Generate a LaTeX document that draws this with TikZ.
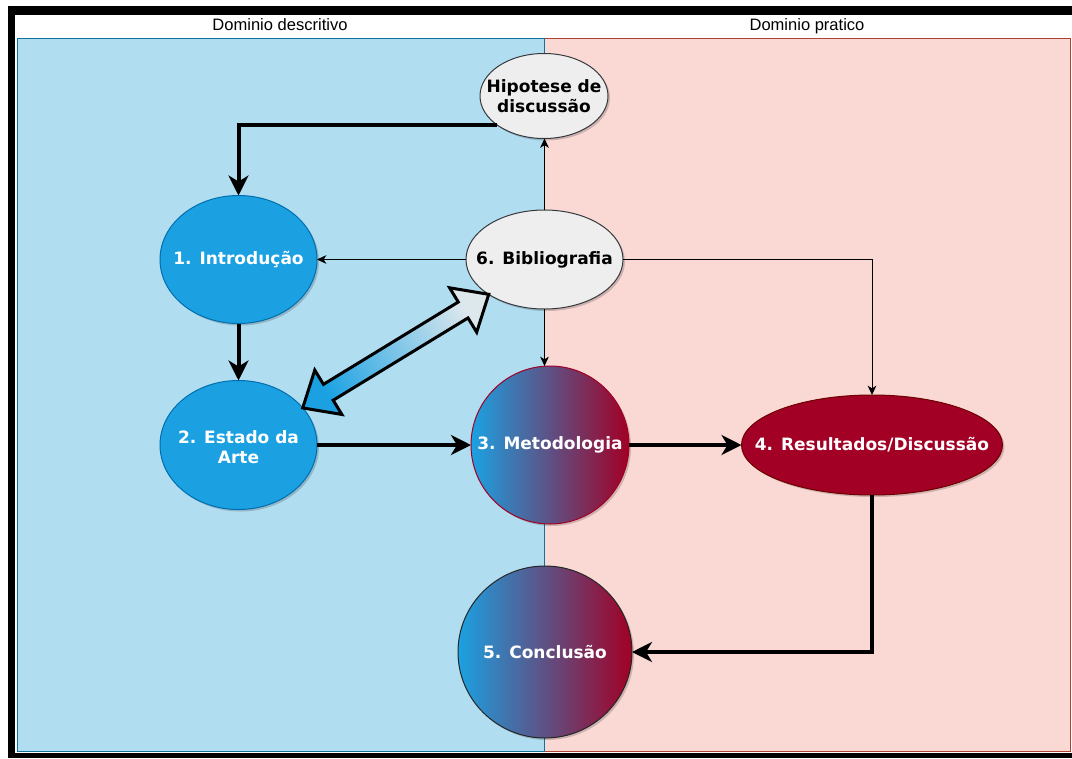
\documentclass[tikz,border=0pt]{standalone}
\usepackage{fontspec}
\setmainfont{Liberation Sans}
\newfontfamily\stepfont{DejaVu Sans}
\usetikzlibrary{arrows.meta,shapes.geometric,shadows,calc}

% palette
\definecolor{laneblue}{HTML}{B1DDF0}
\definecolor{laneblueline}{HTML}{10739E}
\definecolor{lanered}{HTML}{FAD9D5}
\definecolor{laneredline}{HTML}{AE4132}
\definecolor{stepblue}{HTML}{1BA1E2}
\definecolor{stepblueline}{HTML}{006EAF}
\definecolor{stepred}{HTML}{A20025}
\definecolor{stepredline}{HTML}{6F0000}
\definecolor{notefill}{HTML}{EEEEEE}
\definecolor{noteline}{HTML}{36393D}

\tikzset{
  bubble/.style={ellipse, inner sep=0pt, outer sep=0pt, line width=0.75pt,
    drop shadow={shadow xshift=1.5pt, shadow yshift=-1.5pt, opacity=0.18, fill=black}},
  bluebubble/.style={bubble, fill=stepblue, draw=stepblueline},
  graybubble/.style={bubble, fill=notefill, draw=noteline},
  redbubble/.style={bubble, fill=stepred, draw=stepredline},
  mixbubble/.style={bubble, left color=stepblue, right color=stepred},
  steptext/.style={font=\stepfont\bfseries\fontsize{12.75}{15.5}\selectfont,
    align=center, inner sep=0pt},
  headtext/.style={font=\fontsize{12.4}{14}\selectfont, inner sep=0pt, anchor=base},
  flow/.style={line width=3pt, -{Stealth[length=15pt, width=15pt, inset=4.5pt]}},
  link/.style={line width=0.75pt, -{Stealth[length=7pt, width=6.5pt, inset=2pt]}},
  fatarrow/.style={line width=2.25pt, draw=black,
    bottom color=stepblue, top color=notefill!92!stepblue, shading angle=-58.7},
}

\begin{document}
\begin{tikzpicture}[x=0.75pt, y=-0.75pt]
\useasboundingbox (0,0) rectangle (1072,758);
\clip (0,0) rectangle (1072,758);

% outer frame: open on the right-hand side
\fill[white] (0,0) rectangle (1072,758);
\fill[black] (8,6) rectangle (1072,758);
\fill[white] (15,15) rectangle (1072,753);

% the two lanes
\draw[fill=lanered, draw=laneredline, line width=0.75pt] (544,38) rectangle (1070,751);
\draw[fill=laneblue, draw=laneblueline, line width=0.75pt] (17,38) rectangle (544,751);
\node[headtext] (headdesc) at (280,30) {Dominio descritivo};
\node[headtext] (headprat) at (807,30) {Dominio pratico};

% steps
\node[graybubble, minimum width=96pt, minimum height=63.75pt] (hip) at (544,96) {};
\node[steptext] (hiptxt) at (hip) {Hipotese de\\discussão};

\node[graybubble, minimum width=117.75pt, minimum height=74.25pt] (bib) at (544.5,259.5) {};
\node[steptext] (bibtxt) at (bib) {6. Bibliografia};

\node[bluebubble, minimum width=117.75pt, minimum height=96pt] (intro) at (238.5,259.5) {};
\node[steptext, text=white] (introtxt) at (intro) {1. Introdução};

\node[bluebubble, minimum width=117.75pt, minimum height=96.75pt] (est) at (238.5,445) {};
\node[steptext, text=white] (esttxt) at (238.5,447) {2. Estado da\\Arte};

\node[mixbubble, draw=stepred, minimum width=118.5pt, minimum height=118.5pt] (met) at (550,445) {};
\node[steptext, text=white] (mettxt) at (met) {3. Metodologia};

\node[redbubble, minimum width=195.75pt, minimum height=75pt] (res) at (872,445) {};
\node[steptext, text=white] (restxt) at (res) {4. Resultados/Discussão};

\node[mixbubble, draw=black!85, minimum width=130.5pt, minimum height=129pt] (con) at (545,652) {};
\node[steptext, text=white] (contxt) at (con) {5. Conclusão};

% thin links from the bibliography
\draw[link] (bib.north) -- (bib.north |- hip.south);
\draw[link] (bib.west) -- (intro.east);
\draw[link] (bib.south) -- (bib.south |- met.north);
\draw[link] (bib.east) -| (res.north);

% main flow
\draw[flow] (hip.212) -| (intro.north);
\draw[flow] (intro.south) -- (est.north);
\draw[flow] (est.east) -- (met.west);
\draw[flow] (met.east) -- (res.west);
\draw[flow] (res.south) |- (con.east);

% two-way block arrow between state of the art and bibliography
\coordinate (tailtip) at (est.30);
\coordinate (headtip) at (bib.212);
\draw[fatarrow]
  (tailtip)
  -- ($(tailtip)!22.5pt!(headtip)!19.5pt!90:(headtip)$)
  -- ($(tailtip)!22.5pt!(headtip)!7pt!90:(headtip)$)
  -- ($(headtip)!22.5pt!(tailtip)!7pt!-90:(tailtip)$)
  -- ($(headtip)!22.5pt!(tailtip)!19.5pt!-90:(tailtip)$)
  -- (headtip)
  -- ($(headtip)!22.5pt!(tailtip)!19.5pt!90:(tailtip)$)
  -- ($(headtip)!22.5pt!(tailtip)!7pt!90:(tailtip)$)
  -- ($(tailtip)!22.5pt!(headtip)!7pt!-90:(headtip)$)
  -- ($(tailtip)!22.5pt!(headtip)!19.5pt!-90:(headtip)$)
  -- cycle;
\end{tikzpicture}
\end{document}
